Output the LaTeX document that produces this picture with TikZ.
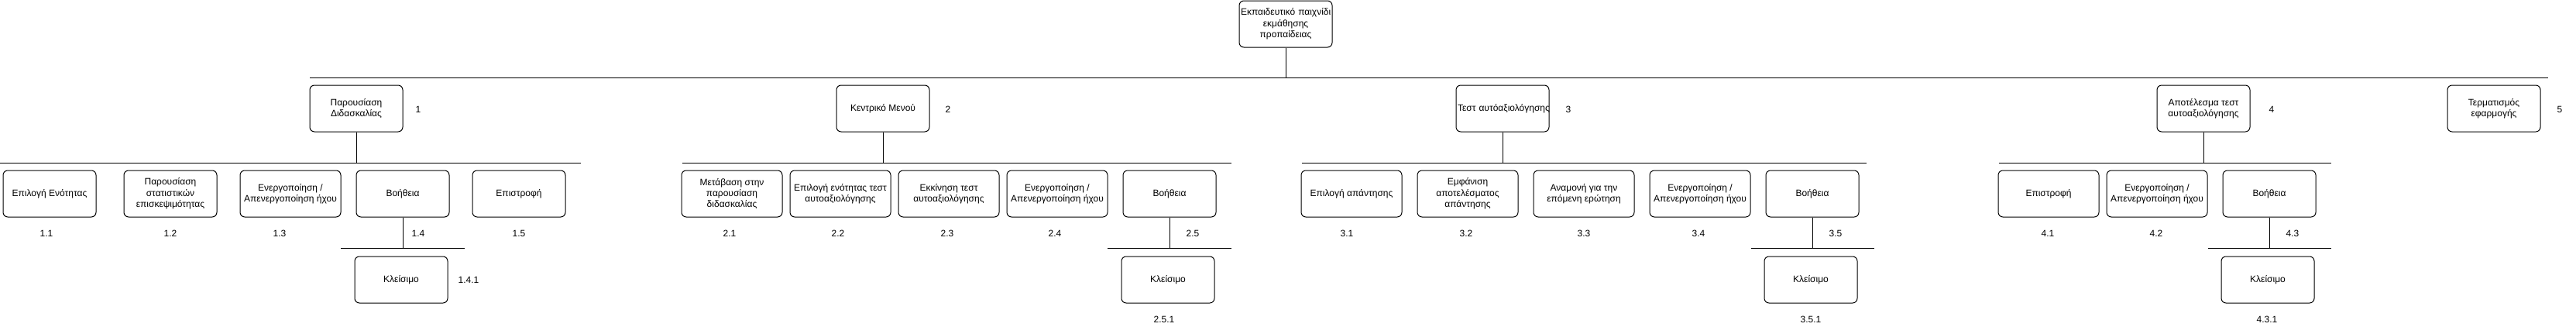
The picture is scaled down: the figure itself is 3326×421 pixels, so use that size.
\documentclass[tikz,border=0pt]{standalone}
\usepackage{fontspec}
\setmainfont{Liberation Sans}
\usepackage{tikz}
\usetikzlibrary{positioning}
\tikzset{
  block/.style  = {draw, line width=1pt, rounded corners=6pt, minimum width=120pt,
                   minimum height=60pt, align=center, inner sep=2pt,
                   font=\fontsize{12}{14.4}\selectfont},
  wblock/.style = {block, minimum width=130pt},
  nblock/.style = {block, text width=116pt},
  num/.style    = {inner sep=0pt, font=\fontsize{12}{14.4}\selectfont},
  bus/.style    = {line width=1pt}
}

\begin{document}
\begin{tikzpicture}[x=1pt, y=-1pt]
\useasboundingbox (0,0) rectangle (3326,421);
% root and first level
\node[nblock] (root) at (1660,31) {\mbox{Εκπαιδευτικό παιχνίδι}\\εκμάθησης\\προπαίδειας};
\coordinate (tl) at (400,100);
\coordinate (tr) at (3290,100);
\draw[bus] (tl) -- (tr);
\draw[bus] (root.south) -- (root.south |- tl);
\node[block] (n1) at (460,140) {Παρουσίαση\\Διδασκαλίας};
\node[block] (n2) at (1140,140) {Κεντρικό Μενού};
\node[nblock] (n3) at (1940,140) {\mbox{Τεστ αυτόαξιολόγησης}};
\node[block] (n4) at (2845,140) {Αποτέλεσμα τεστ\\αυτοαξιολόγησης};
\node[block] (n5) at (3220,140) {Τερματισμός\\εφαρμογής};
\node[num] (l1) at (540,141) {1};
\node[num] (l2) at (1224,141) {2};
\node[num] (l3) at (2025,141) {3};
\node[num] (l4) at (2933,141) {4};
\node[num] (l5) at (3305,141) {5};
% group 1
\coordinate (b1l) at (0,210);
\coordinate (b1r) at (750,210);
\draw[bus] (b1l) -- (b1r);
\draw[bus] (n1.south) -- (n1.south |- b1l);
\node[block] (n11) at (64,250) {Επιλογή Ενότητας};
\node[block] (n12) at (220,250) {Παρουσίαση\\στατιστικών\\επισκεψιμότητας};
\node[wblock] (n13) at (375,250) {Ενεργοποίηση /\\Απενεργοποίηση ήχου};
\node[block] (n14) at (520,250) {Βοήθεια};
\node[block] (n15) at (670,250) {Επιστροφή};
\node[num] (l11) at (60,301) {1.1};
\node[num] (l12) at (220,301) {1.2};
\node[num] (l13) at (361,301) {1.3};
\node[num] (l14) at (540,301) {1.4};
\node[num] (l15) at (670,301) {1.5};
\coordinate (s1l) at (440,320);
\coordinate (s1r) at (600,320);
\draw[bus] (s1l) -- (s1r);
\draw[bus] (n14.south) -- (n14.south |- s1l);
\node[block] (n141) at (518,361) {Κλείσιμο};
\node[num] (l141) at (605,361) {1.4.1};
% group 2
\coordinate (b2l) at (881,210);
\coordinate (b2r) at (1590,210);
\draw[bus] (b2l) -- (b2r);
\draw[bus] (n2.south) -- (n2.south |- b2l);
\node[wblock] (n21) at (945,250) {Μετάβαση στην\\παρουσίαση\\διδασκαλίας};
\node[wblock] (n22) at (1085,250) {Επιλογή ενότητας τεστ\\αυτοαξιολόγησης};
\node[wblock] (n23) at (1225,250) {Εκκίνηση τεστ\\αυτοαξιολόγησης};
\node[wblock] (n24) at (1365,250) {Ενεργοποίηση /\\Απενεργοποίηση ήχου};
\node[block] (n25) at (1510,250) {Βοήθεια};
\node[num] (l21) at (942,301) {2.1};
\node[num] (l22) at (1082,301) {2.2};
\node[num] (l23) at (1223,301) {2.3};
\node[num] (l24) at (1362,301) {2.4};
\node[num] (l25) at (1540,301) {2.5};
\coordinate (s2l) at (1430,320);
\coordinate (s2r) at (1590,320);
\draw[bus] (s2l) -- (s2r);
\draw[bus] (n25.south) -- (n25.south |- s2l);
\node[block] (n251) at (1508,361) {Κλείσιμο};
\node[num] (l251) at (1503,412) {2.5.1};
% group 3
\coordinate (b3l) at (1681,210);
\coordinate (b3r) at (2410,210);
\draw[bus] (b3l) -- (b3r);
\draw[bus] (n3.south) -- (n3.south |- b3l);
\node[wblock] (n31) at (1745,250) {Επιλογή απάντησης};
\node[wblock] (n32) at (1895,250) {Εμφάνιση\\αποτελέσματος\\απάντησης};
\node[wblock] (n33) at (2045,250) {Αναμονή για την\\επόμενη ερώτηση};
\node[wblock] (n34) at (2195,250) {Ενεργοποίηση /\\Απενεργοποίηση ήχου};
\node[block] (n35) at (2340,250) {Βοήθεια};
\node[num] (l31) at (1739,301) {3.1};
\node[num] (l32) at (1893,301) {3.2};
\node[num] (l33) at (2045,301) {3.3};
\node[num] (l34) at (2193,301) {3.4};
\node[num] (l35) at (2370,301) {3.5};
\coordinate (s3l) at (2261,320);
\coordinate (s3r) at (2420,320);
\draw[bus] (s3l) -- (s3r);
\draw[bus] (n35.south) -- (n35.south |- s3l);
\node[block] (n351) at (2338,361) {Κλείσιμο};
\node[num] (l351) at (2338,412) {3.5.1};
% group 4
\coordinate (b4l) at (2581,210);
\coordinate (b4r) at (3010,210);
\draw[bus] (b4l) -- (b4r);
\draw[bus] (n4.south) -- (n4.south |- b4l);
\node[wblock] (n41) at (2645,250) {Επιστροφή};
\node[wblock] (n42) at (2785,250) {Ενεργοποίηση /\\Απενεργοποίηση ήχου};
\node[block] (n43) at (2930,250) {Βοήθεια};
\node[num] (l41) at (2644,301) {4.1};
\node[num] (l42) at (2784,301) {4.2};
\node[num] (l43) at (2960,301) {4.3};
\coordinate (s4l) at (2851,320);
\coordinate (s4r) at (3010,320);
\draw[bus] (s4l) -- (s4r);
\draw[bus] (n43.south) -- (n43.south |- s4l);
\node[block] (n431) at (2928,361) {Κλείσιμο};
\node[num] (l431) at (2927,412) {4.3.1};
\end{tikzpicture}
\end{document}
